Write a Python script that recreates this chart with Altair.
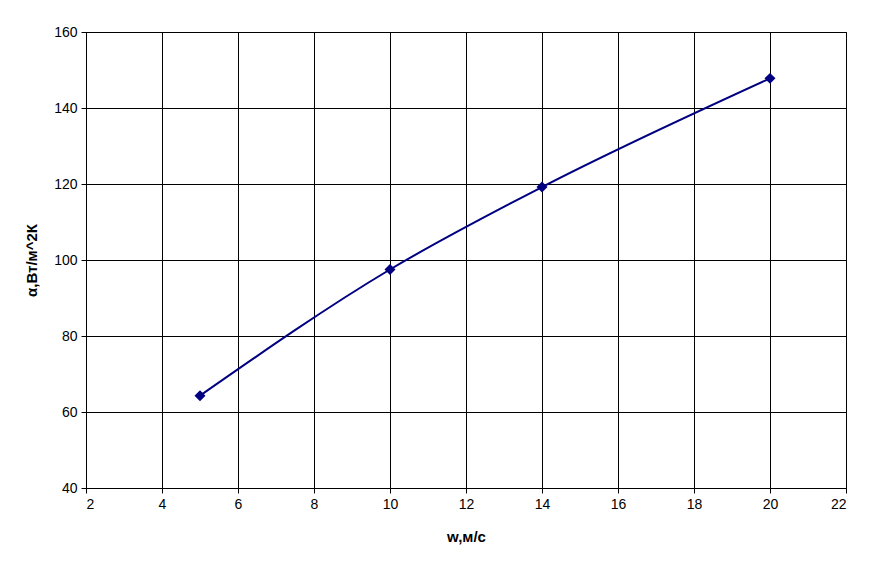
import altair as alt
import pandas as pd

w = [5, 10, 14, 20]
alpha = [64.3, 97.5, 119.2, 147.8]

df = pd.DataFrame({"w": w, "alpha": alpha})

x = alt.X("w:Q", scale=alt.Scale(domain=[2, 22], nice=False, zero=False),
          axis=alt.Axis(title="w,м/с", values=list(range(2, 23, 2)), format="d"))
y = alt.Y("alpha:Q", scale=alt.Scale(domain=[40, 160], nice=False, zero=False),
          axis=alt.Axis(title="α,Вт/м^2К", values=list(range(40, 161, 20)), format="d"))

line = alt.Chart(df).mark_line(color="#000080", strokeWidth=2, interpolate="monotone").encode(x=x, y=y)
pts = alt.Chart(df).mark_point(shape="diamond", filled=True, color="#000080", size=120, opacity=1).encode(x=x, y=y)

chart = (line + pts).properties(
    width=760, height=456,
    background="white",
    autosize=alt.AutoSizeParams(type="none"),
    padding={"left": 78, "top": 24, "right": 20, "bottom": 60},
).configure_view(stroke="black", strokeWidth=1).configure_axis(
    grid=True, gridColor="black", gridWidth=1, gridOpacity=1,
    domain=True, domainColor="black",
    tickColor="black", tickSize=5,
    labelFont="Liberation Sans", labelFontSize=14, labelColor="black", labelPadding=4,
    titleFont="Liberation Sans", titleFontSize=15, titleFontWeight="bold", titleColor="black",
).configure_axisX(titlePadding=18).configure_axisY(titlePadding=14)

chart.save("out.html", embed_options={"renderer": "svg", "actions": False})
